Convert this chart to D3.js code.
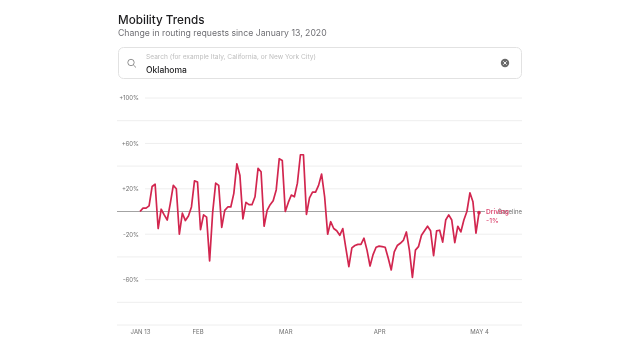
<!DOCTYPE html>
<html>
<head>
<meta charset="utf-8">
<script src="https://d3js.org/d3.v7.min.js"></script>
<style>
  html, body { margin: 0; padding: 0; background: #fff; }
  #chart { filter: blur(0.4px); }
  svg { display: block; font-family: Inter, "Liberation Sans", sans-serif; }
</style>
</head>
<body>
<div id="chart"></div>
<script>
// daily change vs. Jan 13
var startDate = "2020-01-13";
var drivingValues = [
  0, 3, 3, 5, 22, 24, -15, 2, -3, -7.5, 7, 23, 20, -20, -1.5, -8, -4, 4, 27,
  26, -16, -3, -5, -43.5, -1, 25, 23, -14, 1, 4, 4, 16, 42, 32, -6.5, 8, 6, 6, 13,
  38, 35, -13, 1, 6, 9.5, 19, 46.5, 45, 0, 8, 14.5, 13, 25, 50, 50, -2.5, 12, 17, 17, 23,
  33, 13, -20, -9, -15, -17, -21, -15, -32, -48.5, -32, -30, -29, -29, -23.5, -34, -48, -38, -31.5, -30.5,
  -31, -31.5, -41, -51.5, -35.5, -30, -28, -25.5, -18, -34, -58, -34, -31, -21, -17, -13, -17, -39, -17, -16.5,
  -27, -7.5, -3, -7.5, -27.5, -13, -18, -7.5, 0, 16.5, 8.5, -19, -1
];
var gridValues = [100, 80, 60, 40, 20, -20, -40, -60, -80, -100];
var yTickValues = [100, 60, 20, -20, -60];
var xTickDates = ["2020-01-13", "2020-02-01", "2020-03-01", "2020-04-01", "2020-05-04"];
var xTickLabels = ["JAN 13", "FEB", "MAR", "APR", "MAY 4"];

var width = 640, height = 357;
var parseDay = d3.utcParse("%Y-%m-%d");
var firstDay = parseDay(startDate);
var days = drivingValues.map(function(d, i) { return d3.utcDay.offset(firstDay, i); });

var x = d3.scaleUtc()
  .domain([firstDay, days[days.length - 1]])
  .range([140, 479]);
var y = d3.scaleLinear()
  .domain([-100, 100])
  .range([325, 98]);

var svg = d3.select("#chart").append("svg")
  .attr("width", width)
  .attr("height", height);

// header
svg.append("text").attr("x", 118).attr("y", 23.5)
  .attr("font-size", 11.7).attr("font-weight", 500).attr("fill", "#1d1d1f")
  .text("Mobility Trends");
svg.append("text").attr("x", 118).attr("y", 36)
  .attr("font-size", 8.7).attr("fill", "#6e6e73")
  .text("Change in routing requests since January 13, 2020");

// search box
svg.append("rect")
  .attr("x", 118.5).attr("y", 47.5).attr("width", 403).attr("height", 31).attr("rx", 5)
  .attr("fill", "#fff").attr("stroke", "#e2e2e2");
svg.append("circle").attr("cx", 131).attr("cy", 62.5).attr("r", 3.2)
  .attr("fill", "none").attr("stroke", "#777").attr("stroke-width", 0.8);
svg.append("line").attr("x1", 133.4).attr("y1", 65).attr("x2", 136).attr("y2", 67.5)
  .attr("stroke", "#777").attr("stroke-width", 0.8);
svg.append("text").attr("x", 146).attr("y", 59)
  .attr("font-size", 6.6).attr("fill", "#bdbdbd")
  .text("Search (for example Italy, California, or New York City)");
svg.append("text").attr("x", 146).attr("y", 72.5)
  .attr("font-size", 8.5).attr("font-weight", 500).attr("fill", "#1d1d1f")
  .text("Oklahoma");
svg.append("circle").attr("cx", 505).attr("cy", 63).attr("r", 4.2).attr("fill", "#6a6a6a");
svg.append("path").attr("d", "M503.3,61.3L506.7,64.7M506.7,61.3L503.3,64.7")
  .attr("stroke", "#fff").attr("stroke-width", 0.9);

// grid
svg.append("g").selectAll("line")
  .data(gridValues)
  .enter()
  .append("line")
  .attr("x1", function(d) { return yTickValues.indexOf(d) >= 0 ? 145 : 117; })
  .attr("x2", 522)
  .attr("y1", function(d) { return y(d); })
  .attr("y2", function(d) { return y(d); })
  .attr("stroke", "#eeeeee")
  .attr("stroke-width", 1);

// baseline
svg.append("line")
  .attr("x1", 117).attr("x2", 485)
  .attr("y1", y(0)).attr("y2", y(0))
  .attr("stroke", "#a3a3a3").attr("stroke-width", 1.2);

// axes
var yAxis = d3.axisLeft(y)
  .tickValues(yTickValues)
  .tickSize(0)
  .tickPadding(0)
  .tickFormat(function(d) { return (d > 0 ? "+" : "") + d + "%"; });
var yAxisGroup = svg.append("g")
  .attr("transform", "translate(139,0)")
  .call(yAxis);
yAxisGroup.select(".domain").remove();
yAxisGroup.selectAll("text")
  .attr("font-family", "Inter, 'Liberation Sans', sans-serif")
  .attr("font-size", 6)
  .attr("fill", "#6f6f6f");

var xAxis = d3.axisBottom(x)
  .tickValues(xTickDates.map(parseDay))
  .tickSize(0)
  .tickPadding(0)
  .tickFormat(function(d, i) { return xTickLabels[i]; });
var xAxisGroup = svg.append("g")
  .attr("transform", "translate(0,330)")
  .call(xAxis);
xAxisGroup.select(".domain").remove();
xAxisGroup.selectAll("text")
  .attr("font-family", "Inter, 'Liberation Sans', sans-serif")
  .attr("font-size", 6)
  .attr("fill", "#6f6f6f");

// series
var line = d3.line()
  .x(function(d, i) { return x(days[i]); })
  .y(function(d) { return y(d); });
svg.append("path")
  .datum(drivingValues)
  .attr("d", line)
  .attr("fill", "none")
  .attr("stroke", "#d2264f")
  .attr("stroke-width", 1.7)
  .attr("stroke-linejoin", "round");

var lastValue = drivingValues[drivingValues.length - 1];
svg.append("circle")
  .attr("cx", x(days[days.length - 1]))
  .attr("cy", y(lastValue))
  .attr("r", 1.8)
  .attr("fill", "#d2264f");

// end labels, the two overlap in the original
svg.append("text").attr("x", 522).attr("y", y(0) + 2.2)
  .attr("font-size", 6).attr("text-anchor", "end").attr("fill", "#6f6f6f")
  .text("Baseline");
svg.append("text").attr("x", 486).attr("y", y(0) + 2.8)
  .attr("font-size", 6.6).attr("font-weight", 600).attr("fill", "#dc4a72")
  .text("Driving");
svg.append("text").attr("x", 486).attr("y", y(0) + 11.5)
  .attr("font-size", 6.8).attr("font-weight", 500).attr("fill", "#dc4a72")
  .text(lastValue + "%");
</script>
</body>
</html>
